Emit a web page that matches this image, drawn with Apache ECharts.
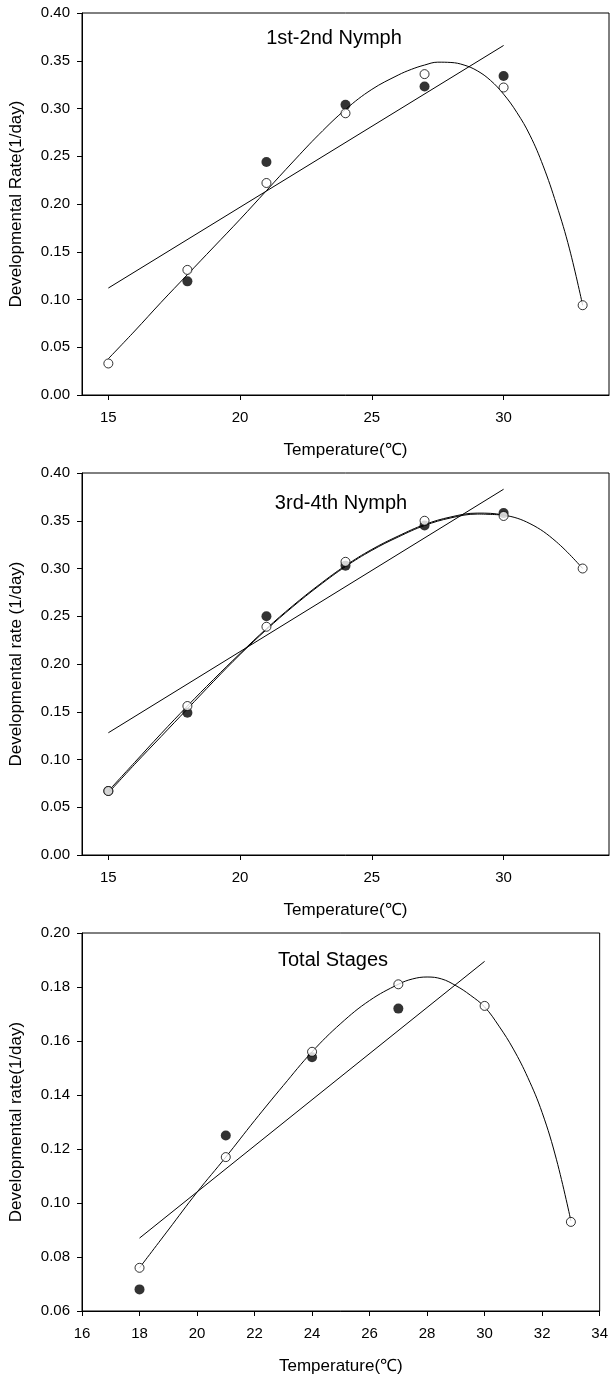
<!DOCTYPE html>
<html>
<head>
<meta charset="utf-8">
<script src="https://cdn.jsdelivr.net/npm/echarts@6/dist/echarts.min.js"></script>
<style>
  html, body { margin: 0; padding: 0; background: #fff; }
  #chart { width: 611px; height: 1376px; }
</style>
</head>
<body>
<div id="chart"></div>
<script>
// ---- 1st-2nd nymph ----
var n12FilledX = [18, 21, 24, 27, 30];
var n12FilledY = [0.119, 0.244, 0.304, 0.323, 0.334];
var n12OpenX = [15, 18, 21, 24, 27, 30, 33];
var n12OpenY = [0.033, 0.131, 0.222, 0.295, 0.336, 0.322, 0.094];
var n12LineX = [15, 30];
var n12LineY = [0.112, 0.366];
var n12CurveX = [15, 16, 17, 18, 19, 20, 21, 22, 23, 24, 25, 26, 26.5, 27, 27.5, 28, 28.5, 29, 29.5, 30, 30.5, 31, 31.5, 32, 32.5, 33];
var n12CurveY = [0.038, 0.067, 0.097, 0.126, 0.155, 0.184, 0.214, 0.244, 0.273, 0.299, 0.320, 0.335, 0.341, 0.3455, 0.3485, 0.3482, 0.3455, 0.3395, 0.3295, 0.315, 0.296, 0.272, 0.240, 0.200, 0.153, 0.094];

// ---- 3rd-4th nymph ----
var n34FilledX = [15, 18, 21, 24, 27, 30];
var n34FilledY = [0.067, 0.149, 0.250, 0.303, 0.345, 0.358];
var n34OpenX = [15, 18, 21, 24, 27, 30, 33];
var n34OpenY = [0.067, 0.156, 0.239, 0.307, 0.350, 0.355, 0.300];
var n34LineX = [15, 30];
var n34LineY = [0.128, 0.383];
var n34CurveOpenX = [15, 16, 17, 18, 19, 20, 21, 22, 23, 24, 25, 26, 27, 28, 29, 30, 31, 32, 33];
var n34CurveOpenY = [0.067, 0.097, 0.127, 0.156, 0.184, 0.211, 0.237, 0.261, 0.283, 0.303, 0.320, 0.334, 0.346, 0.354, 0.358, 0.356, 0.347, 0.328, 0.300];
var n34CurveFilledX = [15, 16, 17, 18, 19, 20, 21, 22, 23, 24, 25, 26, 27, 28, 29, 30];
var n34CurveFilledY = [0.065, 0.095, 0.124, 0.153, 0.182, 0.210, 0.236, 0.260, 0.282, 0.302, 0.319, 0.333, 0.345, 0.353, 0.357, 0.356];

// ---- total stages ----
var totFilledX = [18, 21, 24, 27];
var totFilledY = [0.068, 0.125, 0.154, 0.172];
var totOpenX = [18, 21, 24, 27, 30, 33];
var totOpenY = [0.076, 0.117, 0.156, 0.181, 0.173, 0.093];
var totLineX = [18, 30];
var totLineY = [0.087, 0.1895];
var totCurveX = [18, 19, 20, 21, 22, 23, 24, 25, 26, 27, 27.5, 28, 28.5, 29, 29.5, 30, 30.5, 31, 31.5, 32, 32.5, 33];
var totCurveY = [0.076, 0.090, 0.104, 0.117, 0.1305, 0.1435, 0.156, 0.1665, 0.175, 0.181, 0.183, 0.1837, 0.183, 0.1805, 0.177, 0.1726, 0.1655, 0.157, 0.1465, 0.1335, 0.116, 0.0934];

var titles = ['1st-2nd Nymph', '3rd-4th Nymph', 'Total Stages'];
var yNames = ['Developmental Rate(1/day)', 'Developmental rate (1/day)', 'Developmental rate(1/day)'];
var xName = 'Temperature(\u2103)';
var ticks12 = [15, 20, 25, 30];

function pairs(xs, ys) {
  var out = [];
  for (var i = 0; i < xs.length; i++) out.push([xs[i], ys[i]]);
  return out;
}

var FONT = 'Liberation Sans, Arial, sans-serif';

function xAxisFor(idx, min, max, interval, custom) {
  var ax = {
    gridIndex: idx,
    type: 'value',
    min: min,
    max: max,
    name: xName,
    nameLocation: 'middle',
    nameGap: 47,
    nameTextStyle: { fontFamily: FONT, fontSize: 17, color: '#000' },
    axisLine: { show: true, onZero: false, lineStyle: { color: '#000', width: 1 } },
    axisTick: { show: true, inside: false, length: 5, lineStyle: { color: '#000' } },
    axisLabel: { fontFamily: FONT, fontSize: 15, color: '#000', margin: 15 },
    splitLine: { show: false }
  };
  if (custom) {
    ax.axisTick.customValues = custom;
    ax.axisLabel.customValues = custom;
  } else {
    ax.interval = interval;
  }
  return ax;
}

function yAxisFor(idx, min, max, interval, name) {
  return {
    gridIndex: idx,
    type: 'value',
    min: min,
    max: max,
    interval: interval,
    name: name,
    nameLocation: 'middle',
    nameGap: 57,
    nameTextStyle: { fontFamily: FONT, fontSize: 17, color: '#000' },
    axisLine: { show: true, onZero: false, lineStyle: { color: '#000', width: 1 } },
    axisTick: { show: true, inside: false, length: 5, lineStyle: { color: '#000' } },
    axisLabel: {
      fontFamily: FONT, fontSize: 15, color: '#000', margin: 12,
      formatter: function (v) { return v.toFixed(2); }
    },
    splitLine: { show: false }
  };
}

function scatter(idx, data, filled) {
  return {
    type: 'scatter',
    xAxisIndex: idx,
    yAxisIndex: idx,
    data: data,
    symbol: 'circle',
    symbolSize: filled ? 10 : 9,
    z: filled ? 5 : 6,
    itemStyle: filled
      ? { color: '#000', borderColor: '#000', borderWidth: 0 }
      : { color: '#fff', borderColor: '#000', borderWidth: 1 }
  };
}

function line(idx, data, smooth) {
  return {
    type: 'line',
    xAxisIndex: idx,
    yAxisIndex: idx,
    data: data,
    smooth: smooth,
    showSymbol: false,
    symbol: 'none',
    z: 2,
    lineStyle: { color: '#000', width: 1 }
  };
}

var chart = echarts.init(document.getElementById('chart'), null, { renderer: 'canvas' });

var option = {
  backgroundColor: '#fff',
  animation: false,
  title: [
    { text: titles[0], left: 334, top: 28, textAlign: 'center', padding: 0,
      textStyle: { fontFamily: FONT, fontSize: 20, fontWeight: 'normal', color: '#000' } },
    { text: titles[1], left: 341, top: 493, textAlign: 'center', padding: 0,
      textStyle: { fontFamily: FONT, fontSize: 20, fontWeight: 'normal', color: '#000' } },
    { text: titles[2], left: 333, top: 950, textAlign: 'center', padding: 0,
      textStyle: { fontFamily: FONT, fontSize: 20, fontWeight: 'normal', color: '#000' } }
  ],
  grid: [
    { left: 81, top: 13, width: 528, height: 382, show: true, borderColor: '#000', borderWidth: 1, backgroundColor: 'transparent' },
    { left: 81, top: 473, width: 528, height: 382, show: true, borderColor: '#000', borderWidth: 1, backgroundColor: 'transparent' },
    { left: 80, top: 933, width: 524, height: 378, show: true, borderColor: '#000', borderWidth: 1, backgroundColor: 'transparent' }
  ],
  xAxis: [
    xAxisFor(0, 14, 34, null, ticks12),
    xAxisFor(1, 14, 34, null, ticks12),
    xAxisFor(2, 16, 34, 2, null)
  ],
  yAxis: [
    yAxisFor(0, 0, 0.4, 0.05, yNames[0]),
    yAxisFor(1, 0, 0.4, 0.05, yNames[1]),
    yAxisFor(2, 0.06, 0.2, 0.02, yNames[2])
  ],
  series: [
    line(0, pairs(n12LineX, n12LineY), false),
    line(0, pairs(n12CurveX, n12CurveY), 0.4),
    scatter(0, pairs(n12FilledX, n12FilledY), true),
    scatter(0, pairs(n12OpenX, n12OpenY), false),

    line(1, pairs(n34LineX, n34LineY), false),
    line(1, pairs(n34CurveFilledX, n34CurveFilledY), 0.4),
    line(1, pairs(n34CurveOpenX, n34CurveOpenY), 0.4),
    scatter(1, pairs(n34FilledX, n34FilledY), true),
    scatter(1, pairs(n34OpenX, n34OpenY), false),

    line(2, pairs(totLineX, totLineY), false),
    line(2, pairs(totCurveX, totCurveY), 0.4),
    scatter(2, pairs(totFilledX, totFilledY), true),
    scatter(2, pairs(totOpenX, totOpenY), false)
  ]
};

chart.setOption(option);
</script>
</body>
</html>
